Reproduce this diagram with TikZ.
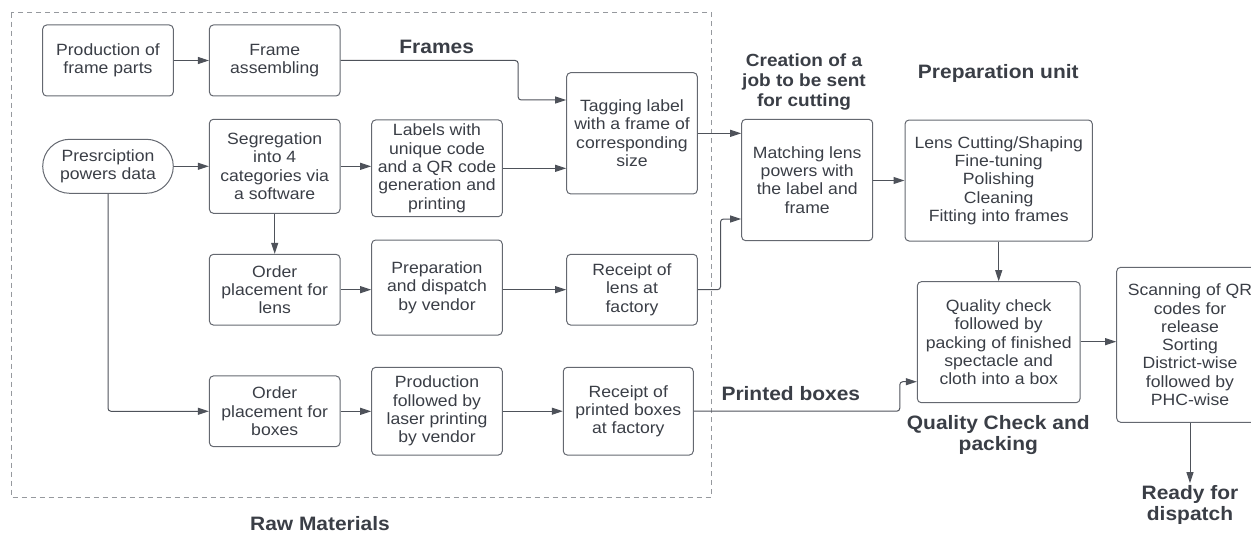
\documentclass[tikz,border=0pt]{standalone}
\usepackage{fontspec}
\setmainfont[FakeStretch=1.08]{Liberation Sans}
\usetikzlibrary{arrows.meta}
\definecolor{ink}{RGB}{58,62,70}
\definecolor{edge}{RGB}{100,104,112}
\definecolor{wire}{RGB}{78,82,90}
\definecolor{areagray}{RGB}{150,153,158}
\tikzset{
  x=1pt, y=1pt,
  every node/.style={text=ink, inner sep=2pt},
  stage/.style={draw=edge, line width=1pt, rounded corners=4pt, align=center,
    font=\fontsize{16.3}{18.3}\selectfont},
  pill/.style={stage, rounded corners=27pt},
  title/.style={align=center, font=\bfseries\fontsize{19.4}{21.3}\selectfont},
  smalltitle/.style={align=center, font=\bfseries\fontsize{17.6}{20}\selectfont},
  flow/.style={draw=wire, line width=1pt, rounded corners=3pt,
    -{Triangle[length=11pt,width=7pt]}},
}
\begin{document}
\begin{tikzpicture}
\useasboundingbox (0,0) rectangle (1251,-535);
\clip (0,0) rectangle (1251,-535);

% raw materials area
\draw[draw=areagray, line width=1pt, dash pattern=on 5pt off 4pt] (11,-12.7) rectangle (711.7,-497);

% process stages
\node[stage, minimum width=130.6pt, minimum height=71pt] (parts) at (108,-60.5) {Production of\\frame parts};
\node[stage, minimum width=130.6pt, minimum height=71pt] (assemble) at (274.7,-60.5) {Frame\\assembling};
\node[pill, minimum width=130.6pt, minimum height=54pt] (rx) at (108,-166.3) {Presrciption\\powers data};
\node[stage, minimum width=130.6pt, minimum height=94pt] (segregate) at (274.7,-166.3) {Segregation\\into 4\\categories via\\a software};
\node[stage, minimum width=130.6pt, minimum height=96.7pt] (labels) at (437,-168.3) {Labels with\\unique code\\and a QR code\\generation and\\printing};
\node[stage, minimum width=130.6pt, minimum height=121.3pt] (tagging) at (632,-133.3) {Tagging label\\with a frame of\\corresponding\\size};
\node[stage, minimum width=131pt, minimum height=121.4pt] (matching) at (807.2,-180) {Matching lens\\powers with\\the label and\\frame};
\node[stage, minimum width=187.3pt, minimum height=121pt] (prepunit) at (998.7,-180.5) {Lens Cutting/Shaping\\Fine-tuning\\Polishing\\Cleaning\\Fitting into frames};
\node[stage, minimum width=130.6pt, minimum height=70.7pt] (orderlens) at (274.7,-289.7) {Order\\placement for\\lens};
\node[stage, minimum width=130.6pt, minimum height=95pt] (dispatch) at (437,-287.5) {Preparation\\and dispatch\\by vendor};
\node[stage, minimum width=130.6pt, minimum height=70.7pt] (lensin) at (632,-289.7) {Receipt of\\lens at\\factory};
\node[stage, minimum width=130.6pt, minimum height=70.7pt] (orderbox) at (274.7,-411.3) {Order\\placement for\\boxes};
\node[stage, minimum width=130.6pt, minimum height=87.7pt] (printing) at (437,-411.2) {Production\\followed by\\laser printing\\by vendor};
\node[stage, minimum width=130pt, minimum height=87.7pt] (boxin) at (628.3,-411.2) {Receipt of\\printed boxes\\at factory};
\node[stage, minimum width=162.7pt, minimum height=121pt] (quality) at (998.7,-342.2) {Quality check\\followed by\\packing of finished\\spectacle and\\cloth into a box};
\node[stage, minimum width=146.6pt, minimum height=155pt] (scan) at (1190,-344.8) {Scanning of QR\\codes for\\release\\Sorting\\District-wise\\followed by\\PHC-wise};

% headings
\node[title] (tframes) at (436.7,-46.7) {Frames};
\node[smalltitle] (tjob) at (804,-81.7) {Creation of a\\job to be sent\\for cutting};
\node[title] (tprep) at (998.3,-73.3) {Preparation unit};
\node[title] (tboxes) at (790.8,-393.3) {Printed boxes};
\node[title] (tqc) at (998.3,-435) {Quality Check and\\packing};
\node[title] (ready) at (1190,-505) {Ready for\\dispatch};
\node[title] (traw) at (320,-523.5) {Raw Materials};

% connectors
\draw[flow] (parts.east) -- (assemble.west);
\draw[flow] (assemble.east) -- ++(177.7,0) |- ([yshift=33.3pt]tagging.west);
\draw[flow] (labels.east |- 0,-168.3) -- (tagging.west |- 0,-168.3);
\draw[flow] (tagging.east) -- (tagging.east -| matching.west);
\draw[flow] (lensin.east) -- ++(22.7,0) |- ([yshift=-39pt]matching.west);
\draw[flow] (matching.east |- prepunit.west) -- (prepunit.west);
\draw[flow] (prepunit.south) -- (quality.north);
\draw[flow] (rx.east) -- (segregate.west);
\draw[flow] (segregate.east) -- (segregate.east -| labels.west);
\draw[flow] (segregate.south) -- (orderlens.north);
\draw[flow] (rx.south) |- (orderbox.west);
\draw[flow] (orderlens.east) -- (orderlens.east -| dispatch.west);
\draw[flow] (dispatch.east |- lensin.west) -- (lensin.west);
\draw[flow] (orderbox.east) -- (orderbox.east -| printing.west);
\draw[flow] (printing.east) -- (boxin.west);
\draw[flow] (boxin.east) -- ++(206,0) |- ([yshift=-39.5pt]quality.west);
\draw[flow] (quality.east |- 0,-341.7) -- (scan.west |- 0,-341.7);
\draw[flow] (scan.south) -- (ready.north);
\end{tikzpicture}
\end{document}
